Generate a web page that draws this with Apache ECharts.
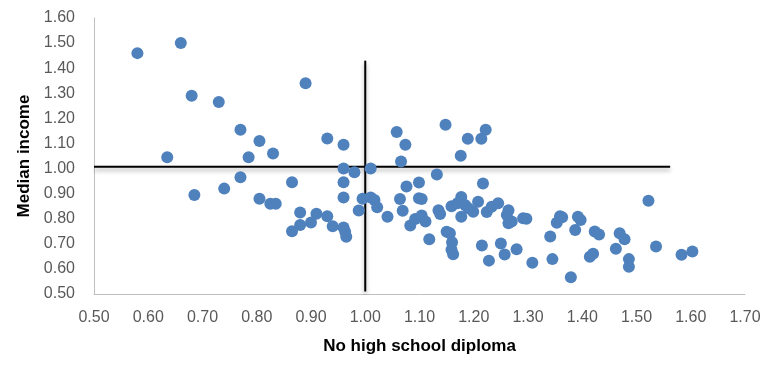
<!DOCTYPE html>
<html>
<head>
<meta charset="utf-8">
<script src="https://cdn.jsdelivr.net/npm/echarts@6/dist/echarts.min.js"></script>
<style>
  html, body { margin: 0; padding: 0; background: #fff; }
  #chart { width: 768px; height: 378px; }
</style>
</head>
<body>
<div id="chart"></div>
<script>
// x = No high school diploma, y = Median income
const points = [
  [0.58, 1.46], [0.66, 1.50], [0.68, 1.29], [0.73, 1.265], [0.89, 1.34],
  [0.77, 1.155], [0.805, 1.11], [0.83, 1.06], [0.635, 1.045], [0.785, 1.045],
  [0.93, 1.12], [0.96, 1.095], [0.96, 1.00], [0.98, 0.985], [1.01, 1.00],
  [0.96, 0.945], [0.77, 0.965], [0.74, 0.92], [0.685, 0.895], [0.865, 0.945],
  [0.805, 0.88], [0.825, 0.86], [0.835, 0.86], [0.96, 0.885], [0.88, 0.825],
  [0.91, 0.82], [0.93, 0.81], [0.88, 0.775], [0.865, 0.75], [0.90, 0.785],
  [0.94, 0.77], [0.96, 0.765], [0.963, 0.748], [0.965, 0.728], [0.988, 0.833],
  [0.995, 0.88], [1.01, 0.885], [1.017, 0.875], [1.022, 0.846], [1.058, 1.146],
  [1.074, 1.095], [1.066, 1.028], [1.076, 0.928], [1.099, 0.944], [1.064, 0.879],
  [1.099, 0.882], [1.104, 0.879], [1.069, 0.832], [1.041, 0.808], [1.083, 0.773],
  [1.092, 0.799], [1.104, 0.813], [1.111, 0.789], [1.118, 0.718], [1.148, 1.175],
  [1.189, 1.119], [1.222, 1.155], [1.214, 1.119], [1.176, 1.051], [1.132, 0.976],
  [1.217, 0.940], [1.177, 0.887], [1.159, 0.850], [1.170, 0.862], [1.184, 0.855],
  [1.190, 0.842], [1.208, 0.868], [1.199, 0.828], [1.177, 0.808], [1.135, 0.834],
  [1.138, 0.819], [1.224, 0.827], [1.233, 0.848], [1.245, 0.862], [1.264, 0.834],
  [1.261, 0.815], [1.264, 0.782], [1.27, 0.789], [1.291, 0.802], [1.297, 0.800],
  [1.150, 0.748], [1.156, 0.742], [1.160, 0.706], [1.159, 0.676], [1.162, 0.658],
  [1.215, 0.693], [1.250, 0.701], [1.257, 0.657], [1.279, 0.678], [1.228, 0.633],
  [1.308, 0.625], [1.341, 0.729], [1.345, 0.639], [1.359, 0.810], [1.363, 0.806],
  [1.353, 0.784], [1.392, 0.808], [1.397, 0.795], [1.387, 0.755], [1.423, 0.749],
  [1.431, 0.737], [1.379, 0.567], [1.414, 0.648], [1.420, 0.660], [1.469, 0.742],
  [1.478, 0.718], [1.462, 0.680], [1.486, 0.639], [1.486, 0.609], [1.522, 0.872],
  [1.536, 0.689], [1.583, 0.656], [1.603, 0.669]
]

// crosshair lines
const hLine = [[0.50, 1.007], [1.562, 1.007]]
const vLine = [[1.00, 0.51], [1.00, 1.43]]

const xTicks = { min: 0.5, max: 1.7, step: 0.1 }
const yTicks = { min: 0.5, max: 1.6, step: 0.1 }

const chart = echarts.init(document.getElementById('chart'))
const labelFont = { color: '#595959', fontSize: 16, fontFamily: 'Liberation Sans' }
const titleFont = { color: '#000', fontSize: 17, fontWeight: 'bold', fontFamily: 'Liberation Sans' }
const lineShadow = {
  color: '#000',
  width: 2,
  shadowColor: 'rgba(0,0,0,0.35)',
  shadowBlur: 4,
  shadowOffsetY: 3
}

chart.setOption({
  backgroundColor: '#fff',
  animation: false,
  grid: { left: 94, right: 23, top: 18, bottom: 84 },
  xAxis: {
    type: 'value',
    min: xTicks.min,
    max: xTicks.max,
    interval: xTicks.step,
    name: 'No high school diploma',
    nameLocation: 'middle',
    nameGap: 44,
    nameTextStyle: titleFont,
    axisLine: { show: true, lineStyle: { color: '#bfbfbf' } },
    axisTick: { show: false },
    splitLine: { show: false },
    axisLabel: { ...labelFont, margin: 16, formatter: (v) => v.toFixed(2) }
  },
  yAxis: {
    type: 'value',
    min: yTicks.min,
    max: yTicks.max,
    interval: yTicks.step,
    name: 'Median income',
    nameLocation: 'middle',
    nameGap: 54,
    nameTextStyle: titleFont,
    axisLine: { show: true, lineStyle: { color: '#bfbfbf' } },
    axisTick: { show: false },
    splitLine: { show: false },
    axisLabel: { ...labelFont, margin: 19, formatter: (v) => v.toFixed(2) }
  },
  series: [
    {
      type: 'line',
      data: hLine,
      symbol: 'none',
      lineStyle: lineShadow,
      z: 1
    },
    {
      type: 'line',
      data: vLine,
      symbol: 'none',
      lineStyle: lineShadow,
      z: 1
    },
    {
      type: 'scatter',
      data: points,
      symbolSize: 12,
      itemStyle: { color: '#4F81BD', opacity: 1 },
      z: 3
    }
  ]
})
</script>
</body>
</html>
